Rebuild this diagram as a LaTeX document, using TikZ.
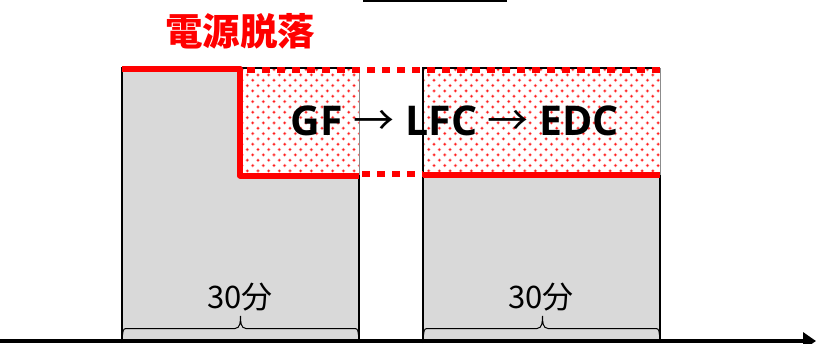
\documentclass[tikz,border=0pt]{standalone}
\usepackage{fontspec}
\newfontfamily\cjk{Noto Sans CJK JP}
\newfontfamily\lat{Open Sans}
\usetikzlibrary{arrows.meta}
\definecolor{boxgray}{RGB}{217,217,217}
\definecolor{edgegray}{RGB}{140,140,140}
\definecolor{dotred}{RGB}{255,30,30}
\tikzset{
  grayfill/.style={fill=boxgray, draw=none},
  blackedge/.style={draw=black, line width=1.6pt},
  thinedge/.style={draw=edgegray, line width=1pt},
  redsolid/.style={draw=red, line width=6pt, line join=round},
  reddash/.style={draw=red, line width=6pt, dash pattern=on 8pt off 7pt},
  bracestyle/.style={draw=black, line width=1pt},
  axisstyle/.style={draw=black, line width=4pt, -{Triangle[length=13pt,width=17pt]}},
  title/.style={text=red, font=\cjk\bfseries\fontsize{37.5}{37.5}\selectfont, inner sep=0pt},
  mainlabel/.style={text=black, font=\lat\bfseries\fontsize{41}{41}\selectfont, inner sep=0pt},
  minlabel/.style={text=black, font=\cjk\fontsize{31}{31}\selectfont, inner sep=0pt}
}
\begin{document}
\begin{tikzpicture}[x=1pt,y=-1pt]
\useasboundingbox (0,0) rectangle (816,343);
% gray boxes
\fill[grayfill] (122,68) rectangle (359,343);
\fill[grayfill] (423,68) rectangle (660,343);
% dotted regions
\fill[white] (243,68) rectangle (359,175);
\fill[white] (423,68) rectangle (660,175);
\begin{scope}
  \clip (243,68) rectangle (359,175) (423,68) rectangle (660,175);
  \foreach \r in {0,...,20} {
    \foreach \c in {0,...,40} {
      \fill[red!35] ({242 + \c*10.67 + mod(\r,2)*5.33}, {69.6 + \r*5.33}) circle (1.9);
      \fill[dotred] ({242 + \c*10.67 + mod(\r,2)*5.33}, {69.6 + \r*5.33}) circle (1.1);
    }
  }
\end{scope}
% box edges
\draw[blackedge] (122,343) -- (122,68) -- (359,68);
\draw[thinedge] (359,68) -- (359,175);
\draw[blackedge, line width=1.2pt] (359,175) -- (359,343);
\draw[blackedge] (423,343) -- (423,68) -- (660,68);
\draw[thinedge] (660,68) -- (660,175);
\draw[blackedge, line width=1.2pt] (660,175) -- (660,343);
% red lines
\draw[redsolid] (122,68.5) -- (240,68.5) -- (240,175.5) -- (359,175.5);
\draw[redsolid] (423,175) -- (660,175);
\draw[reddash] (247,69.5) -- (662,69.5);
\draw[reddash] (362,174) -- (423,174);
% texts
\node[title] (ttl) at (240,31) {電源脱落};
\node[mainlabel] (seq) at (455,121) {GF {\cjk\mdseries →} LFC {\cjk\mdseries →} EDC};
\node[minlabel] (m1) at (240,297) {30分};
\node[minlabel] (m2) at (541,297) {30分};
% braces
\draw[bracestyle] (122.5,335) to[out=90,in=180] (126,328.5) -- (235,328.5) to[out=0,in=-90] (240.5,316) to[out=-90,in=180] (246,328.5) -- (355,328.5) to[out=0,in=90] (358.5,335);
\draw[bracestyle] (423.5,335) to[out=90,in=180] (427,328.5) -- (537,328.5) to[out=0,in=-90] (542.5,316) to[out=-90,in=180] (548,328.5) -- (656,328.5) to[out=0,in=90] (659.5,335);
% axis
\coordinate (axL) at (0,341);
\coordinate (axR) at (816,341);
\draw[axisstyle] (axL) -- (axR);
% top line
\coordinate (tlL) at (363,1);
\coordinate (tlR) at (507,1);
\draw[black, line width=2.5pt] (tlL) -- (tlR);
\end{tikzpicture}
\end{document}
